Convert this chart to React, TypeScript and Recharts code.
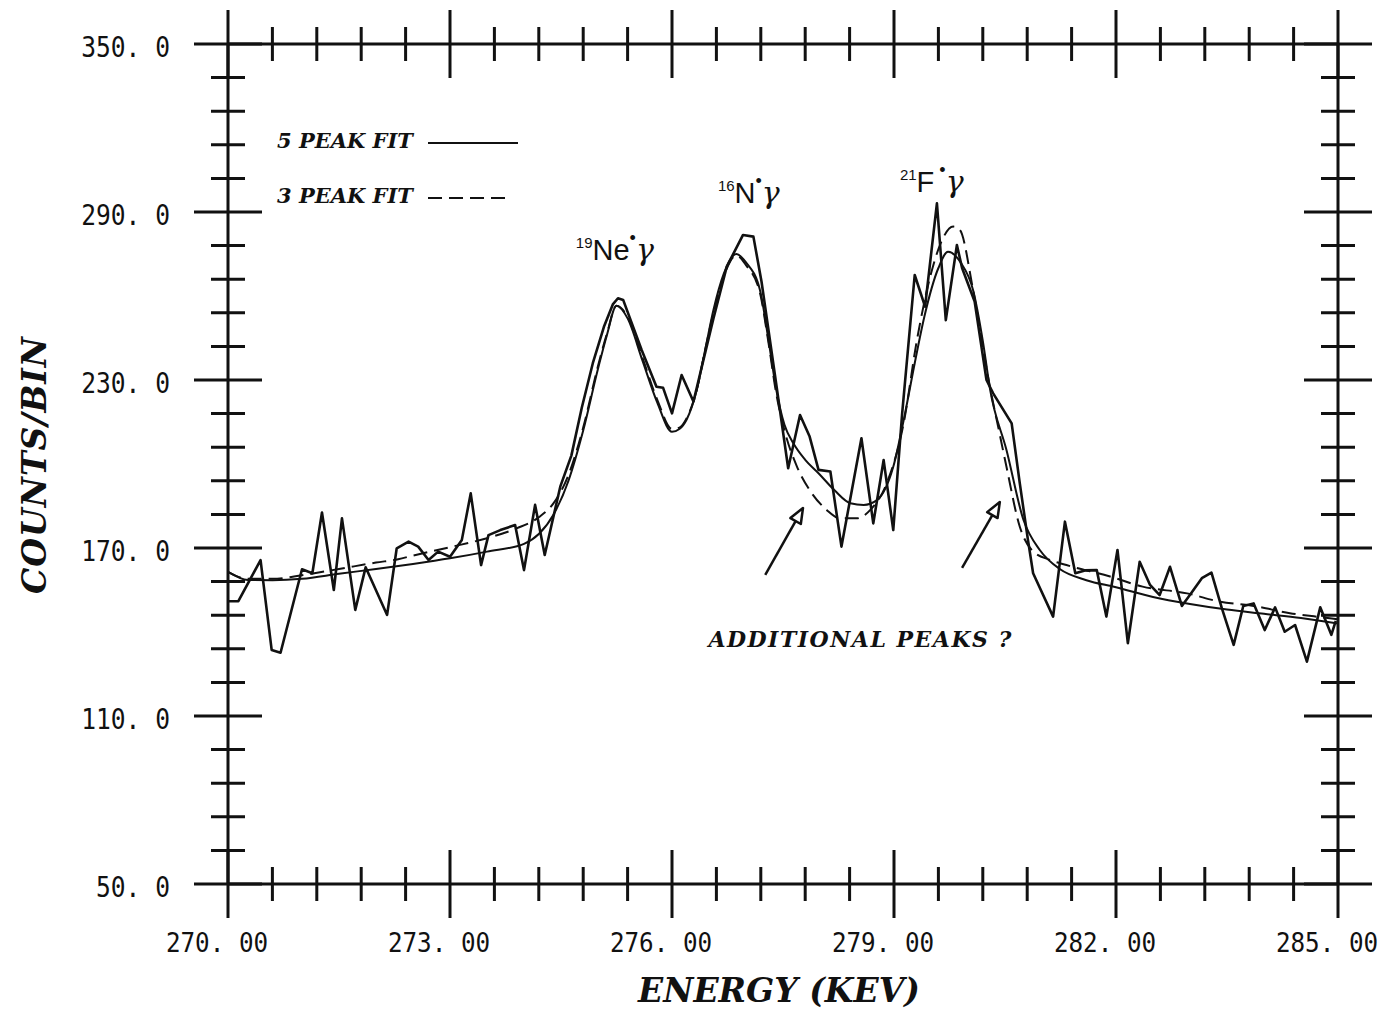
import React from 'react';
import { LineChart, Line, XAxis, YAxis, ReferenceDot, ReferenceLine, Legend } from 'recharts';

// ---------- measured spectrum (energy in keV, counts per bin) ----------
const dataEnergy = [
  270.0, 270.14, 270.44, 270.59, 270.71, 271.0, 271.14, 271.27, 271.43, 271.54,
  271.72, 271.86, 272.15, 272.28, 272.44, 272.57, 272.71, 272.84, 273.0, 273.16,
  273.28, 273.42, 273.52, 273.68, 273.88, 274.0, 274.15, 274.28, 274.49, 274.64,
  274.78, 274.93, 275.08, 275.2, 275.27, 275.34, 275.59, 275.79, 275.88, 276.0,
  276.13, 276.29, 276.56, 276.74, 276.96, 277.1, 277.21, 277.39, 277.57, 277.73,
  277.86, 277.98, 278.14, 278.29, 278.56, 278.72, 278.86, 278.99, 279.11, 279.28,
  279.42, 279.58, 279.7, 279.85, 279.92, 280.09, 280.25, 280.34, 280.59, 280.7,
  280.81, 280.88, 281.15, 281.31, 281.45, 281.58, 281.74, 281.87, 282.02, 282.16,
  282.32, 282.46, 282.59, 282.73, 282.89, 283.02, 283.16, 283.29, 283.43, 283.59,
  283.72, 283.86, 284.01, 284.15, 284.28, 284.42, 284.58, 284.76, 284.91, 284.97,
];
const dataCounts = [
  151, 151, 165.7, 133.6, 132.6, 162.4, 161, 182.7, 155, 180.6,
  147.9, 163.1, 146.1, 169.9, 172.3, 170.5, 165.7, 168.7, 166.9, 172.9,
  189.5, 163.9, 174.6, 176.4, 178.2, 162.1, 185.4, 167.5, 191.9, 203,
  220, 236, 249, 257, 259.2, 258.6, 240.7, 227.6, 227.2, 218.1,
  231.8, 222.3, 252, 270.5, 281.8, 281.2, 265.1, 232, 198.5, 217.5,
  209.8, 197.9, 197.3, 170.5, 209.2, 178.8, 201.4, 176.4, 218, 267.5,
  256.2, 293.1, 251.4, 278.2, 270, 258, 230, 225.2, 214.5, 193.1,
  172.9, 161, 145.5, 179.4, 161, 162, 162.1, 145.5, 169.3, 136,
  165.1, 156.8, 153.2, 163.3, 149.3, 154, 159.2, 161.2, 148.5, 135.4,
  149.3, 150.2, 140.7, 148.8, 140.1, 142.5, 129.4, 148.8, 139, 144,
];

// ---------- 5 peak fit (solid) ----------
const fit5Energy = [
  270.0, 270.27, 270.6, 271.0, 271.5, 272.0, 272.5, 273.0, 273.5, 274.0,
  274.2, 274.4, 274.6, 274.8, 275.0, 275.12, 275.25, 275.4, 275.6, 275.8,
  276.0, 276.1, 276.2, 276.33, 276.45, 276.56, 276.7, 276.87, 277.0, 277.19,
  277.3, 277.41, 277.52, 277.64, 277.8, 277.98, 278.2, 278.41, 278.59, 278.77,
  278.99, 279.14, 279.28, 279.41, 279.6, 279.73, 279.9, 280.07, 280.2, 280.3,
  280.52, 280.75, 280.97, 281.24, 281.6, 282.0, 282.5, 283.0, 283.5, 284.0,
  284.5, 285.0,
];
const fit5Counts = [
  161.5, 158.6, 158.5, 159.0, 160.8, 162.5, 164.3, 166.3, 168.7, 171.5,
  175, 182, 194, 212, 234, 246, 256.5, 252, 237, 222,
  211.5, 212.5, 216, 226, 241, 255, 268, 275, 272, 262,
  245, 226.4, 214, 207.4, 201.5, 196.7, 190.5, 186, 185.4, 187.1,
  199, 216.9, 236, 252.6, 270, 275.8, 272, 262, 244, 226.4,
  205, 180, 169.3, 162.5, 158.5, 156, 152.5, 150, 148, 146.5,
  145, 143,
];

// ---------- 3 peak fit (dashed) ----------
const fit3Energy = [
  270.0, 270.27, 270.6, 271.0, 271.5, 272.0, 272.3, 272.5, 273.0, 273.5,
  273.9, 274.2, 274.4, 274.6, 274.8, 275.0, 275.12, 275.25, 275.4, 275.6,
  275.8, 276.0, 276.1, 276.2, 276.33, 276.45, 276.56, 276.7, 276.87, 277.0,
  277.19, 277.3, 277.41, 277.52, 277.69, 277.86, 278.09, 278.27, 278.5, 278.68,
  278.9, 279.13, 279.31, 279.5, 279.65, 279.8, 279.89, 280.07, 280.3, 280.41,
  280.52, 280.7, 280.86, 281.11, 281.33, 281.92, 282.36, 282.96, 283.41, 283.86,
  284.35, 284.89, 285.0,
];
const fit3Counts = [
  161.5, 159, 159, 160.3, 162.5, 164.8, 166, 167.3, 170.3, 173.5,
  177, 181, 186, 196, 213, 235, 246.5, 256.5, 252.5, 238,
  223, 212.5, 213, 216.5, 226, 241, 254, 267, 274.5, 271,
  261, 244, 225, 212, 199, 190.7, 183.6, 180.6, 180.6, 183.6,
  193, 214.5, 244.3, 268, 280, 284.8, 283.6, 262, 227, 213,
  199, 177.6, 169.3, 165.7, 163.9, 159.8, 156.2, 153.8, 150.8, 149.3,
  146.7, 144.9, 144.5,
];

// ---------- axes ----------
const xTicks = [
  270, 270.6, 271.2, 271.8, 272.4, 273, 273.6, 274.2, 274.8, 275.4, 276, 276.6, 277.2,
  277.8, 278.4, 279, 279.6, 280.2, 280.8, 281.4, 282, 282.6, 283.2, 283.8, 284.4, 285,
];
const xMajorTicks = [270, 273, 276, 279, 282, 285];
const xTickLabels = ['270. 00', '273. 00', '276. 00', '279. 00', '282. 00', '285. 00'];
const yTicks = [
  50, 62, 74, 86, 98, 110, 122, 134, 146, 158, 170, 182, 194, 206, 218, 230,
  242, 254, 266, 278, 290, 302, 314, 326, 338, 350,
];
const yMajorTicks = [50, 110, 170, 230, 290, 350];
const yTickLabels = ['50. 0', '110. 0', '170. 0', '230. 0', '290. 0', '350. 0'];

const xTitle = 'ENERGY (KEV)';
const yTitle = 'COUNTS/BIN';
const legendLabels = ['5 PEAK FIT', '3 PEAK FIT'];

// annotations (data coordinates)
const peakLabels = [
  { e: 274.7, c: 272.9, mass: '19', sym: 'Ne', gap: '' },
  { e: 276.62, c: 293.2, mass: '16', sym: 'N', gap: '' },
  { e: 279.08, c: 297.1, mass: '21', sym: 'F', gap: ' ' },
];
const questionLabel = { e: 278.55, c: 134.6, text: 'ADDITIONAL PEAKS ?' };
const arrows = [
  { e1: 277.26, c1: 160.4, e2: 277.77, c2: 184.3 },
  { e1: 279.92, c1: 162.9, e2: 280.43, c2: 186.4 },
];

const zip = (es: number[], cs: number[]) => es.map((e, i) => ({ e, c: cs[i] }));
const dataPts = zip(dataEnergy, dataCounts);
const fit5Pts = zip(fit5Energy, fit5Counts);
const fit3Pts = zip(fit3Energy, fit3Counts);

const INK = '#111';
const monoFont = '"DejaVu Sans Mono", monospace';
const serifFont = '"DejaVu Serif", serif';
const near = (a: number, b: number) => Math.abs(a - b) < 1e-6;
const majorIndex = (v: number, list: number[]) => list.findIndex((m) => near(m, v));

const XTick = (props: any) => {
  const { x, y, payload, side } = props;
  const idx = majorIndex(payload.value, xMajorTicks);
  const len = idx >= 0 ? 34 : 17;
  const label = xTickLabels[idx];
  return (
    <g>
      <line x1={x} x2={x} y1={y - len} y2={y + len} stroke={INK} strokeWidth={3} />
      {side === 'bottom' && idx >= 0 && (
        <text
          x={x - 11}
          y={y + 68}
          textAnchor="middle"
          fontFamily={monoFont}
          fontSize={26}
          fill={INK}
          textLength={label.length * 14.6}
          lengthAdjust="spacingAndGlyphs"
        >
          {label}
        </text>
      )}
    </g>
  );
};

const YTick = (props: any) => {
  const { x, y, payload, side } = props;
  const idx = majorIndex(payload.value, yMajorTicks);
  const len = idx >= 0 ? 34 : 17;
  const label = yTickLabels[idx];
  return (
    <g>
      <line x1={x - len} x2={x + len} y1={y} y2={y} stroke={INK} strokeWidth={3} />
      {side === 'left' && idx >= 0 && (
        <text
          x={x - 58}
          y={y + 13}
          textAnchor="end"
          fontFamily={monoFont}
          fontSize={28}
          fill={INK}
          textLength={label.length * 14.8}
          lengthAdjust="spacingAndGlyphs"
        >
          {label}
        </text>
      )}
    </g>
  );
};

const XTitle = (props: any) => {
  const vb = props.viewBox || { x: 0, y: 0, width: 0 };
  return (
    <text
      x={vb.x + vb.width / 2 - 4}
      y={vb.y + 118}
      textAnchor="middle"
      fontFamily={serifFont}
      fontWeight="bold"
      fontStyle="italic"
      fontSize={33}
      fill={INK}
    >
      {xTitle}
    </text>
  );
};

const YTitle = (props: any) => {
  const vb = props.viewBox || { x: 0, y: 0, width: 0, height: 0 };
  const cx = vb.x + vb.width - 194;
  const cy = vb.y + vb.height / 2 + 1;
  return (
    <text
      x={cx}
      y={cy}
      transform={`rotate(-90 ${cx} ${cy})`}
      textAnchor="middle"
      dominantBaseline="central"
      fontFamily={serifFont}
      fontWeight="bold"
      fontStyle="italic"
      fontSize={33}
      letterSpacing={1}
      fill={INK}
    >
      {yTitle}
    </text>
  );
};

const PeakLabel = (props: any) => {
  const { cx, cy, mass, sym, gap } = props;
  return (
    <text x={cx} y={cy} fill={INK} fontFamily='"Liberation Sans", Arial, sans-serif' fontSize={29}>
      <tspan fontSize={15} dy={-12}>{mass}</tspan>
      <tspan dy={12}>{sym}</tspan>
      <tspan fontSize={18} dy={-16}>{gap + '•'}</tspan>
      <tspan dy={16} fontFamily='"DejaVu Serif", serif' fontStyle="italic" fontSize={30}>γ</tspan>
    </text>
  );
};

const QuestionLabel = (props: any) => (
  <text
    x={props.cx}
    y={props.cy}
    textAnchor="middle"
    fontFamily={serifFont}
    fontWeight="bold"
    fontStyle="italic"
    fontSize={22}
    letterSpacing={1.5}
    fill={INK}
  >
    {questionLabel.text}
  </text>
);

const Arrow = (props: any) => {
  const { x1, y1, x2, y2 } = props;
  if ([x1, y1, x2, y2].some((v) => typeof v !== 'number' || isNaN(v))) return null;
  const ang = Math.atan2(y2 - y1, x2 - x1);
  const L = 15;
  const W = 6;
  const bx = x2 - L * Math.cos(ang);
  const by = y2 - L * Math.sin(ang);
  const px = -Math.sin(ang) * W;
  const py = Math.cos(ang) * W;
  return (
    <g>
      <line x1={x1} y1={y1} x2={bx} y2={by} stroke={INK} strokeWidth={2.5} />
      <path
        d={`M${x2},${y2} L${bx + px},${by + py} L${bx - px},${by - py} Z`}
        fill="#fff"
        stroke={INK}
        strokeWidth={2.5}
        strokeLinejoin="round"
      />
    </g>
  );
};

const LegendBox = () => (
  <svg width={260} height={100} style={{ display: 'block', overflow: 'visible' }}>
    <text x={0} y={28} fontFamily={serifFont} fontWeight="bold" fontStyle="italic" fontSize={21} fill={INK}>
      {legendLabels[0]}
    </text>
    <line x1={151} x2={241} y1={23} y2={23} stroke={INK} strokeWidth={2} />
    <text x={0} y={83} fontFamily={serifFont} fontWeight="bold" fontStyle="italic" fontSize={21} fill={INK}>
      {legendLabels[1]}
    </text>
    <line x1={151} x2={233} y1={78} y2={78} stroke={INK} strokeWidth={2} strokeDasharray="14 7" />
  </svg>
);

const axisLineStyle = { stroke: INK, strokeWidth: 3 };

export default function App() {
  return (
    <div style={{ width: 1379, height: 1002, background: '#fff' }}>
      <LineChart width={1379} height={1002} margin={{ top: 35, right: 48, bottom: 125, left: 219 }}>
        <XAxis
          dataKey="e"
          type="number"
          domain={[270, 285]}
          ticks={xTicks}
          interval={0}
          height={1}
          tickSize={0}
          tickMargin={0}
          allowDataOverflow
          axisLine={axisLineStyle}
          tickLine={false}
          tick={(p: any) => <XTick {...p} side="bottom" />}
          label={(p: any) => <XTitle {...p} />}
        />
        <XAxis
          xAxisId="top"
          orientation="top"
          dataKey="e"
          type="number"
          domain={[270, 285]}
          ticks={xTicks}
          interval={0}
          height={1}
          tickSize={0}
          tickMargin={0}
          allowDataOverflow
          axisLine={axisLineStyle}
          tickLine={false}
          tick={(p: any) => <XTick {...p} side="top" />}
        />
        <YAxis
          type="number"
          domain={[50, 350]}
          ticks={yTicks}
          interval={0}
          width={1}
          tickSize={0}
          tickMargin={0}
          allowDataOverflow
          axisLine={axisLineStyle}
          tickLine={false}
          tick={(p: any) => <YTick {...p} side="left" />}
          label={(p: any) => <YTitle {...p} />}
        />
        <YAxis
          yAxisId="right"
          orientation="right"
          type="number"
          domain={[50, 350]}
          ticks={yTicks}
          interval={0}
          width={1}
          tickSize={0}
          tickMargin={0}
          allowDataOverflow
          axisLine={axisLineStyle}
          tickLine={false}
          tick={(p: any) => <YTick {...p} side="right" />}
        />
        <Legend
          layout="horizontal"
          verticalAlign="middle"
          align="center"
          wrapperStyle={{ left: 269, top: 112, width: 260, height: 100 }}
          content={() => <LegendBox />}
        />
        <Line
          data={fit3Pts}
          dataKey="c"
          type="monotone"
          stroke={INK}
          strokeWidth={2}
          strokeDasharray="14 7"
          dot={false}
          activeDot={false}
          isAnimationActive={false}
        />
        <Line
          data={fit5Pts}
          dataKey="c"
          type="monotone"
          stroke={INK}
          strokeWidth={2}
          dot={false}
          activeDot={false}
          isAnimationActive={false}
        />
        <Line
          data={dataPts}
          dataKey="c"
          type="linear"
          stroke={INK}
          strokeWidth={2.6}
          strokeLinejoin="round"
          dot={false}
          activeDot={false}
          isAnimationActive={false}
        />
        {peakLabels.map((l) => (
          <ReferenceDot
            key={l.sym}
            x={l.e}
            y={l.c}
            r={0}
            ifOverflow="visible"
            shape={(p: any) => <PeakLabel cx={p.cx} cy={p.cy} mass={l.mass} sym={l.sym} gap={l.gap} />}
          />
        ))}
        <ReferenceDot
          x={questionLabel.e}
          y={questionLabel.c}
          r={0}
          ifOverflow="visible"
          shape={(p: any) => <QuestionLabel cx={p.cx} cy={p.cy} />}
        />
        {arrows.map((a, i) => (
          <ReferenceLine
            key={i}
            segment={[
              { x: a.e1, y: a.c1 },
              { x: a.e2, y: a.c2 },
            ]}
            ifOverflow="visible"
            shape={(p: any) => <Arrow {...p} />}
          />
        ))}
      </LineChart>
    </div>
  );
}
